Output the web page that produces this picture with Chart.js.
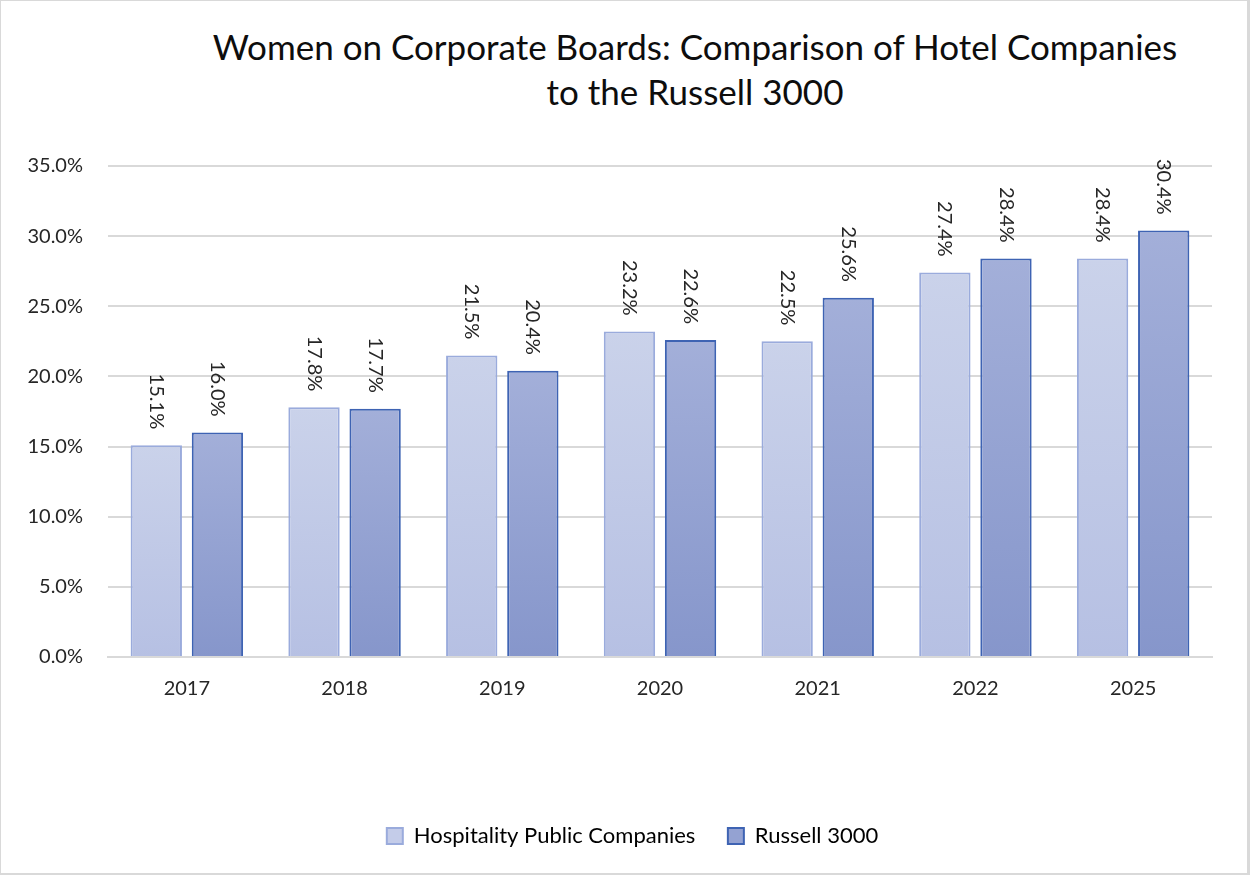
<!DOCTYPE html>
<html lang="en">
<head>
  <meta charset="UTF-8" />
  <title>Women on Corporate Boards</title>
  <style>
    html, body {
      margin: 0;
      padding: 0;
      background: #fff;
    }
    .wrap {
      position: relative;
      width: 1250px;
      height: 875px;
      box-sizing: border-box;
      border: 1px solid #d9d9d9;
      border-right-width: 3px;
      border-bottom-width: 2px;
    }
    h1 {
      position: absolute;
      top: 23px;
      left: 0;
      width: 1388px;
      margin: 0;
      text-align: center;
      font-family: Lato, sans-serif;
      font-weight: normal;
      font-size: 35px;
      line-height: 45px;
      color: #0d0d0d;
    }
    canvas {
      position: absolute;
      top: -1px;
      left: -1px;
    }
  </style>
</head>
<body>
  <div class="wrap">
    <h1>Women on Corporate Boards: Comparison of Hotel Companies<br>to the Russell 3000</h1>
    <canvas id="boards" width="1250" height="875"></canvas>
  </div>

  <script src="https://cdn.jsdelivr.net/npm/chart.js"></script>
  <script>
    const years = ['2017', '2018', '2019', '2020', '2021', '2022', '2025'];
    const hospitality = [15.1, 17.8, 21.5, 23.2, 22.5, 27.4, 28.4];
    const russell = [16.0, 17.7, 20.4, 22.6, 25.6, 28.4, 30.4];
    const yTicks = [0, 5, 10, 15, 20, 25, 30, 35];

    const FONT = 'Lato, sans-serif';
    const TEXT = '#262626';

    // vertical gradient from top of each bar down to the axis
    function barGradient(top, bottom) {
      return function (ctx) {
        const chart = ctx.chart;
        if (!chart.chartArea || ctx.parsed == null) return top;
        const y = chart.scales.y;
        const y0 = y.getPixelForValue(ctx.parsed.y);
        const y1 = y.getPixelForValue(0);
        const g = chart.ctx.createLinearGradient(0, y0, 0, y1);
        g.addColorStop(0, top);
        g.addColorStop(1, bottom);
        return g;
      };
    }

    // rotated value labels above each bar
    const valueLabels = {
      id: 'valueLabels',
      afterDatasetsDraw(chart) {
        const ctx = chart.ctx;
        ctx.save();
        ctx.font = '20px ' + FONT;
        ctx.fillStyle = TEXT;
        ctx.textAlign = 'right';
        ctx.textBaseline = 'middle';
        chart.data.datasets.forEach((ds, i) => {
          chart.getDatasetMeta(i).data.forEach((bar, j) => {
            ctx.save();
            ctx.translate(bar.x, bar.y - 16);
            ctx.rotate(Math.PI / 2);
            ctx.fillText(ds.data[j].toFixed(1) + '%', 0, 0);
            ctx.restore();
          });
        });
        ctx.restore();
      }
    };

    new Chart(document.getElementById('boards'), {
      type: 'bar',
      data: {
        labels: years,
        datasets: [
          {
            label: 'Hospitality Public Companies',
            data: hospitality,
            backgroundColor: barGradient('#cad2ea', '#b6c0e3'),
            borderColor: '#9aabdc',
            borderWidth: 2,
            categoryPercentage: 0.775,
            barPercentage: 0.84
          },
          {
            label: 'Russell 3000',
            data: russell,
            backgroundColor: barGradient('#a3afd9', '#8696cb'),
            borderColor: '#3e63b3',
            borderWidth: 2,
            categoryPercentage: 0.775,
            barPercentage: 0.84
          }
        ]
      },
      options: {
        responsive: false,
        animation: false,
        layout: {
          padding: { top: 166, left: 10, right: 38, bottom: 18 }
        },
        plugins: {
          legend: {
            position: 'bottom',
            fullSize: false,
            labels: {
              font: { family: FONT, size: 22 },
              color: TEXT,
              boxWidth: 16,
              boxHeight: 16,
              padding: 10,
              generateLabels(chart) {
                const cols = [['#c4cce9', '#9aabdc'], ['#94a2d2', '#3e63b3']];
                // trailing spaces keep the legend centred where the original sits
                const tails = ['    ', '\u2002\u2002\u2002\u2002\u2002'];
                return chart.data.datasets.map((ds, i) => ({
                  text: ds.label + tails[i],
                  fillStyle: cols[i][0],
                  strokeStyle: cols[i][1],
                  lineWidth: 2,
                  datasetIndex: i
                }));
              }
            }
          },
          tooltip: { enabled: false }
        },
        scales: {
          x: {
            grid: { display: false, drawTicks: false },
            border: { color: '#d9d9d9', width: 2 },
            ticks: {
              font: { family: FONT, size: 20 },
              color: TEXT,
              padding: 20
            },
            afterFit(scale) { scale.height = 158; }
          },
          y: {
            min: 0,
            max: 35,
            afterBuildTicks(scale) {
              scale.ticks = yTicks.map(v => ({ value: v }));
            },
            grid: { color: '#d9d9d9', lineWidth: 2, drawTicks: false },
            border: { display: false },
            ticks: {
              font: { family: FONT, size: 20 },
              color: TEXT,
              padding: 25,
              callback: v => v.toFixed(1) + '%'
            },
            afterFit(scale) { scale.width = 98; }
          }
        }
      },
      plugins: [valueLabels]
    });
  </script>
</body>
</html>
